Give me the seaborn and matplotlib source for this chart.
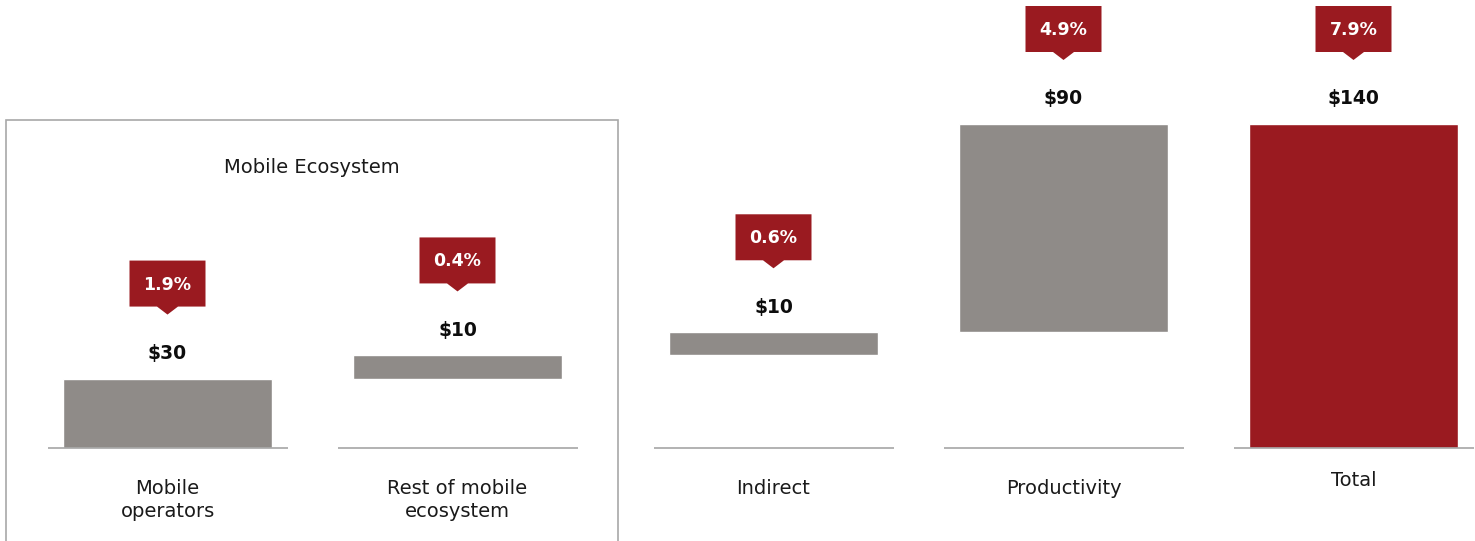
import numpy as np
import pandas as pd
import matplotlib
matplotlib.use("Agg")
import matplotlib.pyplot as plt
import matplotlib.transforms as mtransforms
from matplotlib.patches import Polygon, Rectangle
import seaborn as sns

# ---- data -------------------------------------------------------------
categories = ["Mobile\noperators", "Rest of mobile\necosystem", "Indirect", "Productivity", "Total"]
values = [30, 10, 10, 90, 140]          # US$ billions
gdp_share = ["1.9%", "0.4%", "0.6%", "4.9%", "7.9%"]
group_title = "Mobile Ecosystem"

# waterfall bases: each contribution stacks on the previous ones, total starts at 0
bases = list(np.concatenate([[0], np.cumsum(values[:-2])])) + [0]

df = pd.DataFrame({"category": categories, "value": values, "base": bases})

GREY = "#8f8b88"
RED = "#9a1a20"
LINE = "#a6a6a6"

sns.set_theme(style="white")
plt.rcParams["font.family"] = ["DejaVu Sans"]

W, H, DPI = 1475, 541, 100
fig = plt.figure(figsize=(W / DPI, H / DPI), dpi=DPI)

# two panels: the mobile ecosystem pair and the remaining components
split = 620
ax_l = fig.add_axes([0, 0, split / W, 1])
ax_r = fig.add_axes([split / W, 0, 1 - split / W, 1])

step = 290.0          # px between bar centres
px_per_unit = 324 / 140
y0 = -(H - 448) / px_per_unit
y1 = 448 / px_per_unit

panels = [
    (ax_l, df.iloc[:2], 167.5, 0),
    (ax_r, df.iloc[2:], 773.5, split),
]

label_offsets = {  # px below the baseline to the top of each category label
    "Mobile\noperators": 31,
    "Rest of mobile\necosystem": 31,
    "Indirect": 31,
    "Productivity": 31,
    "Total": 23,
}

for ax, sub, first_c, left_px in panels:
    sns.barplot(data=sub, x="category", y="value", bottom=sub["base"].to_numpy(),
                color=GREY, saturation=1, width=209 / step, ax=ax)
    width_px = ax.get_position().width * W
    lo = (left_px - first_c) / step
    ax.set_xlim(lo, lo + width_px / step)
    ax.set_ylim(y0, y1)
    ax.axis("off")

    for i, (cat, val, base, share) in enumerate(
            zip(sub["category"], sub["value"], sub["base"], gdp_share[sub.index[0]:sub.index[-1] + 1])):
        if cat == "Total":
            ax.patches[i].set_facecolor(RED)
        top = base + val
        # baseline segment under each bar
        ax.hlines(0, i - 120 / step, i + 120 / step, color=LINE, lw=1.2)
        # value label
        ax.annotate(f"${val}", (i, top), xytext=(0, 25), textcoords="offset pixels",
                    ha="center", va="center", fontsize=13.5, fontweight="bold", color="#0d0d0d")
        # callout with the share of GDP
        trans = fig.dpi_scale_trans + mtransforms.ScaledTranslation(i, top, ax.transData)
        s = 1 / DPI
        verts = np.array([[-38, 72], [-10.5, 72], [0, 64], [10.5, 72], [38, 72],
                          [38, 118], [-38, 118]]) * s
        ax.add_patch(Polygon(verts, closed=True, transform=trans, facecolor=RED,
                             edgecolor="none", clip_on=False))
        ax.annotate(share, (i, top), xytext=(0, 94), textcoords="offset pixels",
                    ha="center", va="center", fontsize=12.5, fontweight="bold", color="white")
        # category label
        ax.annotate(cat, (i, 0), xytext=(0, -label_offsets[cat]), textcoords="offset pixels",
                    ha="center", va="top", fontsize=14, color="#1a1a1a", linespacing=1.28)

# frame around the mobile ecosystem group
fig.patches.append(Rectangle((6 / W, -0.02), 612 / W, (H - 120) / H + 0.02,
                             transform=fig.transFigure, fill=False,
                             edgecolor="#a8a8a8", lw=1.2))
fig.text(312 / W, 1 - 168 / H, group_title, ha="center", va="center",
         fontsize=14, color="#1a1a1a")

fig.savefig("out.png", dpi=DPI, facecolor="white")
